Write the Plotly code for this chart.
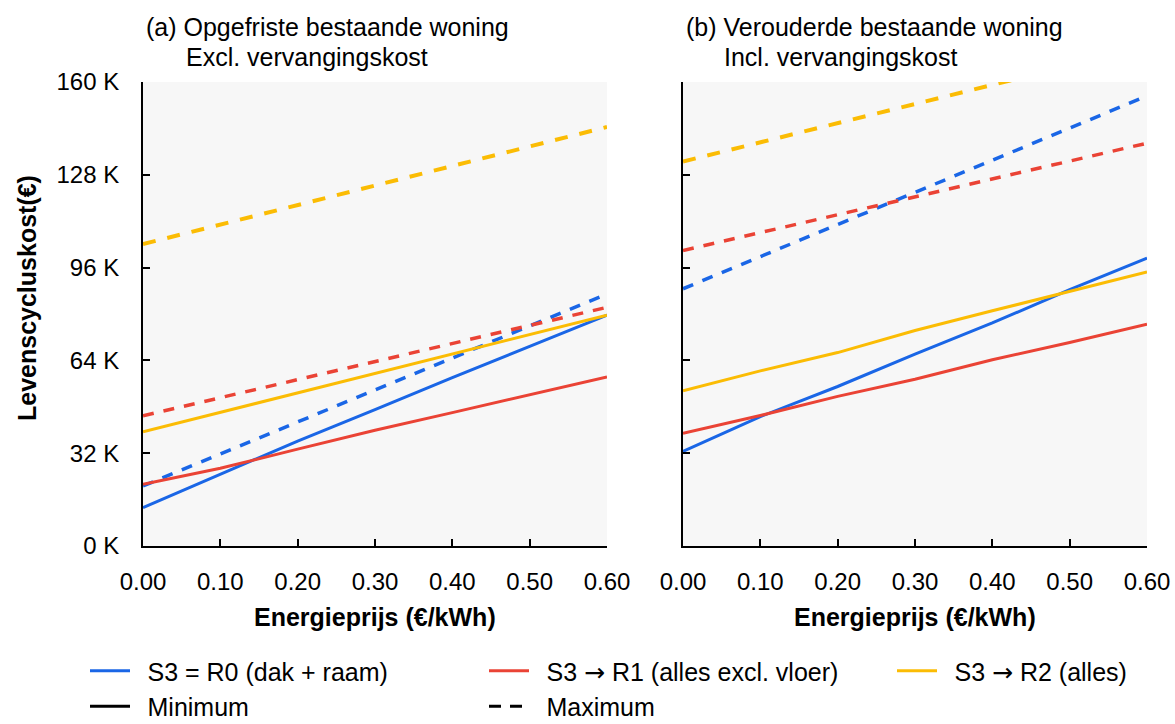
import plotly.graph_objects as go

# ---------------- data (Levenscycluskost in K€) ----------------
energy_price = [0.0, 0.1, 0.2, 0.3, 0.4, 0.5, 0.6]

# (a) Opgefriste bestaande woning - Excl. vervangingskost
a_r0_min = [13.2, 24.7, 36.2, 47.0, 58.1, 68.8, 79.6]
a_r0_max = [20.7, 31.7, 42.8, 53.8, 64.8, 75.9, 86.9]
a_r1_min = [21.3, 26.8, 33.4, 39.9, 46.0, 52.1, 58.3]
a_r1_max = [44.9, 51.1, 57.4, 63.6, 69.8, 76.1, 82.3]
a_r2_min = [39.4, 46.1, 52.8, 59.5, 66.2, 72.9, 79.6]
a_r2_max = [104.1, 110.8, 117.6, 124.3, 131.0, 137.8, 144.5]

# (b) Verouderde bestaande woning - Incl. vervangingskost
b_r0_min = [32.6, 44.6, 55.0, 66.2, 76.9, 88.4, 99.3]
b_r0_max = [88.7, 99.8, 110.9, 122.0, 133.0, 144.1, 155.2]
b_r1_min = [38.9, 45.0, 51.6, 57.5, 64.2, 70.2, 76.5]
b_r1_max = [101.9, 108.1, 114.2, 120.4, 126.6, 132.7, 138.9]
b_r2_min = [53.5, 60.4, 66.7, 74.3, 81.1, 87.8, 94.5]
b_r2_max = [132.6, 139.2, 145.8, 152.4, 159.0, 165.6, 172.2]

y_tickvals = [0, 32, 64, 96, 128, 160]
y_ticktext = [f"{v} K" for v in y_tickvals]
x_tickvals = [0.0, 0.1, 0.2, 0.3, 0.4, 0.5, 0.6]
x_ticktext = [f"{v:.2f}" for v in x_tickvals]

ARROW = '<span style="font-family:DejaVu Sans">\u2192</span>'
series_names = ["S3 = R0 (dak + raam)",
                 f"S3 {ARROW} R1 (alles excl. vloer)",
                 f"S3 {ARROW} R2 (alles)"]
colors = ["#1A66E6", "#EA4335", "#FBBC04"]
legends = ["legend", "legend2", "legend3"]

FONT = "Liberation Sans, Arial, sans-serif"
FS = 24
FS_T = 25
FS_L = 25
PAD = "\u2002"

fig = go.Figure()

panels = [
    ("x", "y", [a_r0_min, a_r1_min, a_r2_min], [a_r0_max, a_r1_max, a_r2_max]),
    ("x2", "y2", [b_r0_min, b_r1_min, b_r2_min], [b_r0_max, b_r1_max, b_r2_max]),
]

for p, (xa, ya, mins, maxs) in enumerate(panels):
    for i in range(3):
        fig.add_trace(go.Scatter(
            x=energy_price, y=maxs[i], mode="lines", xaxis=xa, yaxis=ya,
            line=dict(color=colors[i], width=4 if i == 2 else 3.5,
                      dash="13px,12px" if i == 2 else "11px,10px"),
            showlegend=False, hoverinfo="skip"))
    for i in range(3):
        fig.add_trace(go.Scatter(
            x=energy_price, y=mins[i], mode="lines", xaxis=xa, yaxis=ya,
            line=dict(color=colors[i], width=3),
            name=PAD + series_names[i], legend=legends[i], legendgroup=f"g{i}",
            showlegend=(p == 0), hoverinfo="skip"))

# line-style legend entries
fig.add_trace(go.Scatter(x=[None], y=[None], mode="lines", name=PAD + "Minimum",
                         line=dict(color="black", width=3),
                         legend="legend", legendgroup="gmin"))
fig.add_trace(go.Scatter(x=[None], y=[None], mode="lines", name=PAD + "Maximum",
                         line=dict(color="black", width=3, dash="12px,9px"),
                         legend="legend2", legendgroup="gmax"))

L, R, T, B = 143, 28, 82, 178
W, H = 1175, 724
pw = W - L - R
ph = H - T - B


def px_x(px):
    return (px - L) / pw


def px_y(py):
    return (H - B - py) / ph


axis_common = dict(
    showline=True, linecolor="black", linewidth=2, mirror=False,
    ticks="inside", ticklen=7, tickwidth=2, tickcolor="black",
    showgrid=False, zeroline=False,
    tickfont=dict(family=FONT, size=FS, color="black"),
)

fig.update_layout(
    width=W, height=H,
    margin=dict(l=L, r=R, t=T, b=B, autoexpand=False),
    paper_bgcolor="white", plot_bgcolor="#F7F7F7",
    font=dict(family=FONT, size=FS, color="black"),
    xaxis=dict(domain=[0, px_x(607)], range=[0, 0.6], tickvals=x_tickvals,
               ticktext=x_ticktext, anchor="y", ticklabelstandoff=13, **axis_common),
    xaxis2=dict(domain=[px_x(683), 1], range=[0, 0.6], tickvals=x_tickvals,
                ticktext=x_ticktext, anchor="y2", ticklabelstandoff=13, **axis_common),
    yaxis=dict(domain=[0, 1], range=[0, 160], tickvals=y_tickvals, ticktext=y_ticktext,
               anchor="x", ticklabelstandoff=17, **axis_common),
    yaxis2=dict(domain=[0, 1], range=[0, 160], tickvals=y_tickvals, ticktext=y_ticktext,
                anchor="x2", showticklabels=False, **axis_common),
    showlegend=True,
)

leg_common = dict(orientation="v", xanchor="left", yanchor="top",
                  bgcolor="rgba(0,0,0,0)", borderwidth=0, itemwidth=40,
                  tracegroupgap=0, font=dict(family=FONT, size=FS_L, color="black"),
                  itemclick=False, itemdoubleclick=False)
leg_y = px_y(648)
fig.update_layout(
    legend=dict(x=px_x(85), y=leg_y, **leg_common),
    legend2=dict(x=px_x(484), y=leg_y, **leg_common),
    legend3=dict(x=px_x(892), y=leg_y, **leg_common),
)

annotations = [
    dict(text="(a) Opgefriste bestaande woning", x=px_x(144), y=px_y(27)),
    dict(text="Excl. vervangingskost", x=px_x(184), y=px_y(57)),
    dict(text="(b) Verouderde bestaande woning", x=px_x(684), y=px_y(27)),
    dict(text="Incl. vervangingskost", x=px_x(722), y=px_y(57)),
]
for a in annotations:
    fig.add_annotation(xref="paper", yref="paper", xanchor="left", yanchor="middle",
                       showarrow=False, font=dict(family=FONT, size=FS_T, color="black"), **a)

for cx in (375, 915):
    fig.add_annotation(text="<b>Energieprijs (\u20ac/kWh)</b>", xref="paper", yref="paper",
                       x=px_x(cx), y=px_y(617), xanchor="center", yanchor="middle",
                       showarrow=False, font=dict(family=FONT, size=FS_T, color="black"))
fig.add_annotation(text="<b>Levenscycluskost(\u20ac)</b>", xref="paper", yref="paper",
                   x=px_x(27), y=px_y(298), xanchor="center", yanchor="middle",
                   textangle=-90, showarrow=False,
                   font=dict(family=FONT, size=FS_T, color="black"))

fig.write_html("out.html")
